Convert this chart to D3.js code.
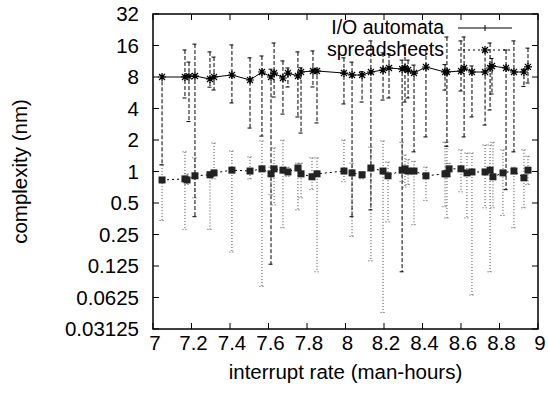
<!DOCTYPE html>
<html>
<head>
<meta charset="utf-8">
<script src="https://cdn.jsdelivr.net/npm/d3@7"></script>
<style>
  body { margin: 0; background: #fff; }
  svg { display: block; font-family: "Liberation Sans", Arial, sans-serif; }
</style>
</head>
<body>
<div id="chart"></div>
<script>
// I/O automata series (stars, solid line, dashed error bars)
const ioX    = [7.047, 7.166, 7.187, 7.218, 7.296, 7.317, 7.410, 7.504, 7.566, 7.613, 7.629, 7.675, 7.701, 7.753, 7.769, 7.831, 7.852, 7.992, 8.034, 8.086, 8.132, 8.195, 8.226, 8.294, 8.309, 8.325, 8.356, 8.418, 8.517, 8.527, 8.600, 8.616, 8.657, 8.725, 8.751, 8.761, 8.834, 8.875, 8.927, 8.948];
const ioY    = [8.0, 8.0, 8.1, 8.18, 7.66, 8.0, 8.36, 7.49, 8.93, 8.0, 8.73, 7.83, 8.73, 8.18, 8.93, 9.13, 9.13, 8.73, 8.36, 8.36, 8.93, 9.33, 9.75, 9.54, 9.75, 9.33, 8.73, 9.97, 8.93, 8.93, 9.13, 9.75, 8.93, 8.93, 9.75, 10.2, 9.75, 8.93, 8.93, 10.0];
const ioLow  = [1.16, 5.04, 3.0, 0.37, 6.4, 6.01, 4.52, 2.60, 2.18, 0.13, 5.15, 3.54, 6.42, 3.32, 2.33, 6.42, 2.91, 4.42, 0.37, 4.61, 0.43, 4.82, 5.04, 0.11, 4.61, 5.04, 1.54, 2.14, 6.0, 1.74, 5.88, 2.14, 3.32, 2.78, 3.87, 5.5, 0.67, 1.54, 6.5, 7.01];
const ioHigh = [8.3, 14.5, 11.1, 16.5, 13.9, 12.4, 16.2, 12.2, 12.7, 9.5, 16.9, 11.4, 9.75, 13.9, 9.8, 14.2, 9.5, 12.2, 11.1, 9.0, 17.7, 13.6, 13.3, 11.6, 16.2, 11.6, 10.4, 14.5, 10.5, 19.3, 17.7, 19.3, 10.2, 14.0, 16.9, 12.0, 14.5, 17.7, 9.5, 15.1];

// spreadsheets series (squares, dotted line, dotted error bars)
const ssX    = [7.047, 7.166, 7.177, 7.218, 7.296, 7.317, 7.410, 7.504, 7.566, 7.613, 7.629, 7.675, 7.701, 7.753, 7.769, 7.826, 7.852, 7.992, 8.034, 8.086, 8.132, 8.195, 8.221, 8.294, 8.309, 8.325, 8.356, 8.418, 8.517, 8.527, 8.538, 8.600, 8.631, 8.657, 8.725, 8.751, 8.766, 8.818, 8.875, 8.927, 8.948];
const ssY    = [0.83, 0.85, 0.83, 0.91, 0.93, 0.97, 1.03, 1.01, 1.06, 0.95, 1.06, 1.03, 0.99, 1.08, 0.95, 0.89, 0.95, 1.01, 0.97, 0.93, 1.08, 1.01, 0.91, 1.03, 1.06, 1.01, 1.01, 0.91, 0.95, 0.95, 1.06, 1.06, 0.97, 0.99, 0.99, 1.03, 0.89, 0.97, 1.01, 0.87, 1.03];
const ssLow  = [0.34, 0.28, 0.75, 0.56, 0.28, 0.85, 0.17, 0.85, 0.080, 0.60, 0.48, 0.29, 0.9, 0.43, 0.56, 0.67, 0.11, 0.8, 0.24, 0.85, 0.14, 0.045, 0.33, 0.8, 0.71, 0.75, 0.31, 0.53, 0.46, 0.36, 0.9, 0.64, 0.36, 0.066, 0.45, 0.11, 0.45, 0.38, 0.29, 0.45, 0.75];
const ssHigh = [1.15, 1.54, 0.95, 1.35, 1.0, 1.87, 1.57, 1.38, 1.96, 1.1, 1.68, 1.99, 1.1, 1.2, 1.2, 1.35, 1.35, 2.0, 1.2, 1.0, 1.71, 1.96, 1.23, 1.9, 1.44, 1.3, 1.25, 1.1, 1.9, 1.91, 1.2, 1.61, 1.5, 1.5, 1.79, 1.79, 1.9, 1.61, 1.1, 1.61, 1.4];

const xTicks = [7, 7.2, 7.4, 7.6, 7.8, 8, 8.2, 8.4, 8.6, 8.8, 9];
const yTicks = [0.03125, 0.0625, 0.125, 0.25, 0.5, 1, 2, 4, 8, 16, 32];
const seriesNames = ['I/O automata', 'spreadsheets'];

const width = 548, height = 397;
const margin = { top: 14, right: 10, bottom: 68, left: 153 };
const w = width - margin.left - margin.right;
const h = height - margin.top - margin.bottom;
const fontSize = 20.5;

const svg = d3.select('#chart')
    .append('svg')
    .attr('width', width)
    .attr('height', height);

const g = svg.append('g')
    .attr('transform', `translate(${margin.left},${margin.top})`);

// Scales
const x = d3.scaleLinear().domain([7, 9]).range([0, w]);
const y = d3.scaleLog().base(2).domain([0.03125, 32]).range([h, 0]);

const tickLen = 6;

// Ticks (inward, mirrored)
g.selectAll('.xt')
    .data(xTicks)
    .enter()
    .append('path')
    .attr('d', d => `M${x(d)},${h}v${-tickLen}M${x(d)},0v${tickLen}`)
    .attr('stroke', '#000')
    .attr('stroke-width', 1);

g.selectAll('.yt')
    .data(yTicks)
    .enter()
    .append('path')
    .attr('d', d => `M0,${y(d)}h${tickLen}M${w},${y(d)}h${-tickLen}`)
    .attr('stroke', '#000')
    .attr('stroke-width', 1);

// Tick labels
g.selectAll('.xl')
    .data(xTicks)
    .enter()
    .append('text')
    .attr('x', d => x(d) + 2)
    .attr('y', h + 21)
    .attr('text-anchor', 'middle')
    .attr('font-size', fontSize)
    .text(d => d3.format('')(d));

g.selectAll('.yl')
    .data(yTicks)
    .enter()
    .append('text')
    .attr('x', -14)
    .attr('y', d => y(d))
    .attr('dy', '0.35em')
    .attr('text-anchor', 'end')
    .attr('font-size', fontSize)
    .text(d => String(d));

// Axis titles
svg.append('text')
    .attr('x', margin.left + w / 2)
    .attr('y', 379)
    .attr('text-anchor', 'middle')
    .attr('font-size', fontSize)
    .text('interrupt rate (man-hours)');

svg.append('text')
    .attr('transform', `translate(27,${margin.top + h / 2}) rotate(-90)`)
    .attr('text-anchor', 'middle')
    .attr('font-size', fontSize)
    .text('complexity (nm)');

// Error bars
function errorBars(xs, ys, lo, hi, dash, color) {
    const cap = 2.5;
    g.append('g')
        .selectAll('path')
        .data(xs.map((d, i) => ({ x: d, lo: lo[i], hi: hi[i] })))
        .enter()
        .append('path')
        .attr('d', d => {
            const px = x(d.x), a = y(d.hi), b = y(d.lo);
            return `M${px},${a}V${b}M${px - cap},${a}h${cap * 2}M${px - cap},${b}h${cap * 2}`;
        })
        .attr('fill', 'none')
        .attr('stroke', color)
        .attr('stroke-width', 1)
        .attr('stroke-dasharray', dash);
}

errorBars(ioX, ioY, ioLow, ioHigh, '4,2', '#000');
errorBars(ssX, ssY, ssLow, ssHigh, '1,2', '#444');

// Lines
const line = d3.line()
    .x(d => x(d[0]))
    .y(d => y(d[1]));

g.append('path')
    .datum(ioX.map((d, i) => [d, ioY[i]]))
    .attr('fill', 'none')
    .attr('stroke', '#000')
    .attr('stroke-width', 1)
    .attr('d', line);

g.append('path')
    .datum(ssX.map((d, i) => [d, ssY[i]]))
    .attr('fill', 'none')
    .attr('stroke', '#000')
    .attr('stroke-width', 1)
    .attr('stroke-dasharray', '2,3')
    .attr('d', line);

// Markers
const star = (cx, cy, r) =>
    `M${cx - r},${cy}h${2 * r}M${cx},${cy - r}v${2 * r}` +
    `M${cx - r * 0.75},${cy - r * 0.75}l${1.5 * r},${1.5 * r}M${cx - r * 0.75},${cy + r * 0.75}l${1.5 * r},${-1.5 * r}`;

g.append('g')
    .selectAll('path')
    .data(ioX.map((d, i) => [d, ioY[i]]))
    .enter()
    .append('path')
    .attr('d', d => star(x(d[0]), y(d[1]), 4))
    .attr('stroke', '#000')
    .attr('stroke-width', 1.2);

g.append('g')
    .selectAll('rect')
    .data(ssX.map((d, i) => [d, ssY[i]]))
    .enter()
    .append('rect')
    .attr('x', d => x(d[0]) - 3.5)
    .attr('y', d => y(d[1]) - 3.5)
    .attr('width', 7)
    .attr('height', 7)
    .attr('fill', '#222');

// Legend
const legend = svg.append('g');
const legendY = [28, 50];
legend.selectAll('text')
    .data(seriesNames)
    .enter()
    .append('text')
    .attr('x', 444)
    .attr('y', (d, i) => legendY[i])
    .attr('dy', '0.32em')
    .attr('text-anchor', 'end')
    .attr('font-size', 19.5)
    .text(d => d);

legend.append('line')
    .attr('x1', 458).attr('x2', 512)
    .attr('y1', legendY[0]).attr('y2', legendY[0])
    .attr('stroke', '#000');
legend.append('path')
    .attr('d', `M485,${legendY[0] - 3}v6`)
    .attr('stroke', '#000');

legend.append('line')
    .attr('x1', 458).attr('x2', 512)
    .attr('y1', legendY[1]).attr('y2', legendY[1])
    .attr('stroke', '#000')
    .attr('stroke-dasharray', '2,3');
legend.append('path')
    .attr('d', star(485, legendY[1], 4))
    .attr('stroke', '#000')
    .attr('stroke-width', 1.2);

// Frame
g.append('rect')
    .attr('width', w)
    .attr('height', h)
    .attr('fill', 'none')
    .attr('stroke', '#000')
    .attr('stroke-width', 1.5);
</script>
</body>
</html>
